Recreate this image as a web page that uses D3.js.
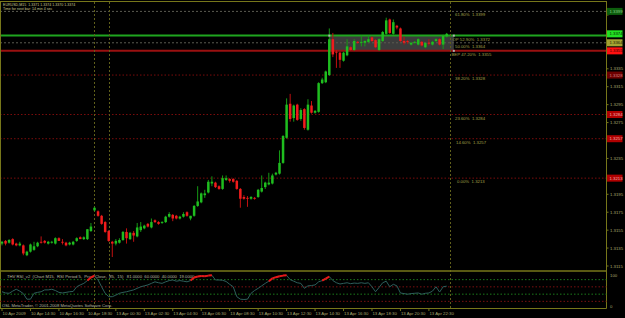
<!DOCTYPE html>
<html><head><meta charset="utf-8">
<script src="https://cdn.jsdelivr.net/npm/d3@7"></script>
<style>html,body{margin:0;padding:0;background:#000;overflow:hidden}</style>
</head><body><svg id="c" width="625" height="318"></svg>
<script>
// ---- data (EURUSD M15) ----
const opens = [1.3140,1.3143,1.3141,1.3145,1.3140,1.3138,1.3138,1.3127,1.3131,1.3133,
1.3137,1.3142,1.3143,1.3140,1.3141,1.3140,1.3146,1.3142,1.3141,1.3139,
1.3139,1.3143,1.3147,1.3145,1.3145,1.3154,1.3177,1.3176,1.3171,1.3164,
1.3154,1.3142,1.3140,1.3141,1.3144,1.3153,1.3145,1.3152,1.3148,1.3155,
1.3157,1.3162,1.3158,1.3166,1.3164,1.3163,1.3164,1.3170,1.3172,1.3171,
1.3168,1.3170,1.3175,1.3168,1.3171,1.3182,1.3186,1.3194,1.3197,1.3207,
1.3208,1.3204,1.3201,1.3211,1.3212,1.3212,1.3210,1.3201,1.3192,1.3191,
1.3190,1.3191,1.3192,1.3198,1.3203,1.3206,1.3207,1.3217,1.3218,1.3230,
1.3258,1.3296,1.3280,1.3295,1.3279,1.3290,1.3267,1.3294,1.3286,1.3287,
1.3319,1.3320,1.3328,1.3368,1.3354,1.3353,1.3344,1.3350,1.3359,1.3356,
1.3365,1.3364,1.3364,1.3365,1.3370,1.3367,1.3356,1.3366,1.3374,1.3390,
1.3374,1.3383,1.3380,1.3366,1.3366,1.3362,1.3364,1.3362,1.3365,1.3359,
1.3364,1.3362,1.3366,1.3368,1.3362,1.3371];
const highs = [1.3143,1.3144,1.3145,1.3146,1.3141,1.3142,1.3139,1.3132,1.3140,1.3142,
1.3142,1.3148,1.3144,1.3143,1.3143,1.3147,1.3147,1.3145,1.3142,1.3142,
1.3143,1.3147,1.3148,1.3148,1.3156,1.3163,1.3181,1.3177,1.3172,1.3165,
1.3155,1.3143,1.3145,1.3146,1.3154,1.3157,1.3153,1.3154,1.3163,1.3164,
1.3161,1.3163,1.3168,1.3167,1.3165,1.3165,1.3171,1.3175,1.3173,1.3172,
1.3171,1.3175,1.3176,1.3171,1.3183,1.3204,1.3197,1.3200,1.3211,1.3215,
1.3209,1.3205,1.3216,1.3216,1.3213,1.3213,1.3211,1.3202,1.3194,1.3193,
1.3193,1.3192,1.3201,1.3216,1.3209,1.3219,1.3218,1.3220,1.3244,1.3261,
1.3302,1.3307,1.3295,1.3296,1.3291,1.3291,1.3301,1.3299,1.3289,1.3320,
1.3325,1.3333,1.3380,1.3375,1.3356,1.3354,1.3354,1.3368,1.3360,1.3368,
1.3366,1.3372,1.3367,1.3372,1.3371,1.3368,1.3369,1.3377,1.3392,1.3391,
1.3390,1.3384,1.3381,1.3371,1.3367,1.3365,1.3366,1.3369,1.3366,1.3364,
1.3368,1.3366,1.3369,1.3369,1.3373,1.3375];
const lows = [1.3138,1.3138,1.3140,1.3138,1.3137,1.3137,1.3127,1.3126,1.3130,1.3132,
1.3136,1.3140,1.3140,1.3139,1.3140,1.3139,1.3143,1.3139,1.3137,1.3138,
1.3138,1.3142,1.3145,1.3144,1.3144,1.3153,1.3176,1.3170,1.3161,1.3152,
1.3142,1.3125,1.3138,1.3140,1.3143,1.3140,1.3144,1.3142,1.3147,1.3153,
1.3156,1.3158,1.3157,1.3163,1.3161,1.3162,1.3163,1.3169,1.3165,1.3167,
1.3167,1.3169,1.3170,1.3166,1.3170,1.3181,1.3185,1.3191,1.3196,1.3204,
1.3202,1.3200,1.3200,1.3210,1.3208,1.3208,1.3200,1.3180,1.3189,1.3181,
1.3189,1.3189,1.3191,1.3197,1.3201,1.3205,1.3206,1.3216,1.3217,1.3229,
1.3257,1.3276,1.3276,1.3277,1.3277,1.3267,1.3266,1.3285,1.3285,1.3286,
1.3318,1.3319,1.3327,1.3348,1.3336,1.3336,1.3343,1.3349,1.3355,1.3355,
1.3363,1.3360,1.3360,1.3364,1.3365,1.3358,1.3355,1.3365,1.3373,1.3374,
1.3373,1.3379,1.3365,1.3362,1.3363,1.3361,1.3363,1.3361,1.3360,1.3358,
1.3361,1.3361,1.3365,1.3361,1.3357,1.3370];
const closes = [1.3142,1.3140,1.3144,1.3139,1.3138,1.3140,1.3129,1.3131,1.3139,1.3137,
1.3141,1.3141,1.3141,1.3142,1.3142,1.3146,1.3143,1.3141,1.3138,1.3141,
1.3142,1.3146,1.3145,1.3147,1.3156,1.3159,1.3180,1.3171,1.3162,1.3153,
1.3143,1.3140,1.3143,1.3144,1.3153,1.3146,1.3152,1.3149,1.3158,1.3159,
1.3160,1.3159,1.3164,1.3164,1.3162,1.3164,1.3170,1.3173,1.3168,1.3168,
1.3170,1.3173,1.3171,1.3171,1.3182,1.3187,1.3196,1.3196,1.3209,1.3209,
1.3203,1.3201,1.3213,1.3213,1.3210,1.3209,1.3201,1.3190,1.3190,1.3190,
1.3192,1.3190,1.3200,1.3202,1.3208,1.3208,1.3216,1.3219,1.3230,1.3260,
1.3295,1.3279,1.3294,1.3278,1.3289,1.3269,1.3295,1.3286,1.3288,1.3319,
1.3323,1.3332,1.3368,1.3351,1.3353,1.3345,1.3353,1.3360,1.3356,1.3366,
1.3364,1.3365,1.3366,1.3368,1.3366,1.3359,1.3368,1.3376,1.3389,1.3375,
1.3387,1.3381,1.3366,1.3364,1.3365,1.3364,1.3365,1.3368,1.3361,1.3364,
1.3363,1.3365,1.3368,1.3362,1.3372,1.3374];
const rsi = [46,42,41,48,54,48,40,22,22,41,
44,46,52,52,54,50,44,42,44,46,
47,62,68,73,82,92,98,84,62,41,
30,30,35,41,44,46,49,52,57,62,
65,68,73,78,75,73,78,82,84,80,
82,80,78,82,92,95,97,96,98,99,
84,84,83,79,70,62,30,22,21,22,
41,50,57,65,73,80,89,93,96,98,
99,85,80,75,73,57,65,66,68,78,
82,88,95,82,75,71,73,75,72,74,
73,75,73,75,62,46,60,75,80,62,
70,65,42,40,38,40,41,42,38,41,
42,48,62,45,62,64];
const timeLabels = ["10 Apr 2009","10 Apr 14:30","10 Apr 16:30","10 Apr 18:30","13 Apr 00:30","13 Apr 02:30","13 Apr 04:30","13 Apr 06:30","13 Apr 08:30","13 Apr 10:30","13 Apr 12:30","13 Apr 14:30","13 Apr 16:30","13 Apr 18:30","13 Apr 20:30","13 Apr 22:30"];
const timeLabelBars = [0,8,16,24,32,40,48,56,64,72,80,88,96,104,112,120];
const priceTicks = [1.3395,1.3375,1.3355,1.3335,1.3315,1.3295,1.3275,1.3255,1.3235,1.3215,1.3195,1.3175,1.3155,1.3135,1.3115];
const rsiTicks = [100,0];
const rsiLevels = [85,61.8,38.2,15];
const fibPct = ["61.80%","OP 52.90%","50.00%","BEP 47.20%","38.20%","23.60%","14.60%","0.00%"];
const fibPrice = [1.3399,1.3372,1.3364,1.3355,1.3328,1.3284,1.3257,1.3213];
const tagPrices = [1.3399,1.3374,1.3364,1.3355,1.3328,1.3284,1.3257,1.3213];
const vLineBars = [26,30,126];
const boxBars = [92,127];
const titleLines = ["EURUSD,M15  1.3371 1.3374 1.3370 1.3374","Time for next bar: 14 min 4 sec"];
const rsiTitle = "THV RSI_v2  (Chart M15,  RSI Period 5,  Price Close,  85,  15)   81.0000  60.0000  40.0000  19.0000";
const copyright = "OSL MetaTrader, \u00a9 2001-2008 MetaQuotes Software Corp.";

// ---- drawing ----
const svg = d3.select("#c");
const OL = "#77771a", TXT = "#a8a870", FONT = "Liberation Sans, Arial, sans-serif";
const RIGHT = 606.5;
svg.append("rect").attr("width",625).attr("height",318).attr("fill","#000");
const x = d3.scaleLinear().domain([0,125]).range([2,446.7]);
const y = d3.scaleLinear().domain([1.3115,1.3395]).range([266,15]);
const yr = d3.scaleLinear().domain([0,100]).range([306,275]);
const n = closes.length;
const bars = d3.range(n).map(i=>({i,o:opens[i],h:highs[i],l:lows[i],c:closes[i]}));

const fibStyles = [
 {c:"#5a5a50",w:1,d:"2,2"},{c:"#1fa51f",w:2,d:null},{c:"#5a5a50",w:1,d:"2,2"},{c:"#9a1010",w:2,d:null},
 {c:"#7a0c0c",w:1,d:"1.5,2"},{c:"#7a0c0c",w:1,d:"1.5,2"},{c:"#7a0c0c",w:1,d:"1.5,2"},{c:"#7a0c0c",w:1,d:"1.5,2"}];
svg.append("rect").attr("x",x(boxBars[0])).attr("width",x(boxBars[1])-x(boxBars[0]))
  .attr("y",y(fibPrice[1])).attr("height",y(fibPrice[3])-y(fibPrice[1])).attr("fill","#3c3c3c");
fibPrice.forEach((p,k)=>{
  const s=fibStyles[k];
  const ln=svg.append("line").attr("x1",0).attr("x2",RIGHT).attr("y1",y(p)).attr("y2",y(p))
   .attr("stroke",s.c).attr("stroke-width",s.w);
  if(s.d) ln.attr("stroke-dasharray",s.d);
});
vLineBars.forEach(b=>{
  svg.append("line").attr("x1",Math.round(x(b))+0.5).attr("x2",Math.round(x(b))+0.5).attr("y1",2).attr("y2",308)
   .attr("stroke","#5f5f1a").attr("stroke-dasharray","2,2");
});
const g = svg.append("g");
g.selectAll(".w").data(bars).join("line")
 .attr("x1",d=>x(d.i)).attr("x2",d=>x(d.i)).attr("y1",d=>y(d.h)).attr("y2",d=>y(d.l))
 .attr("stroke",d=>d.c>=d.o?"#159a15":"#c01010").attr("stroke-width",1);
g.selectAll(".b").data(bars).join("rect")
 .attr("x",d=>x(d.i)-1.25).attr("width",2.5)
 .attr("y",d=>y(Math.max(d.o,d.c))).attr("height",d=>Math.max(0.8,Math.abs(y(d.o)-y(d.c))))
 .attr("fill",d=>d.c>=d.o?"#1fbd1f":"#f01c1c");
[[boxBars[0],fibPrice[1]],[boxBars[1],fibPrice[1]],[boxBars[1],fibPrice[3]]].forEach(([b,p])=>{
  svg.append("rect").attr("x",x(b)-1).attr("y",y(p)-1).attr("width",2).attr("height",2).attr("fill","#b0b0b0");
});
const fibX = [455,452.5,455,451.5,455,455,456,457];
fibPct.forEach((t,k)=>{
  svg.append("text").attr("x",fibX[k]).attr("y",y(fibPrice[k])+5).text(t+"  "+fibPrice[k].toFixed(4))
   .attr("fill","#a0a048").attr("font-size",4.3).attr("font-family",FONT).attr("xml:space","preserve");
});

// frame
svg.append("line").attr("x1",0).attr("x2",RIGHT).attr("y1",1.5).attr("y2",1.5).attr("stroke",OL);
svg.append("line").attr("x1",0.5).attr("x2",0.5).attr("y1",1).attr("y2",308).attr("stroke",OL);
svg.append("line").attr("x1",RIGHT).attr("x2",RIGHT).attr("y1",1).attr("y2",308.5).attr("stroke",OL);
svg.append("line").attr("x1",0).attr("x2",RIGHT).attr("y1",271).attr("y2",271).attr("stroke",OL).attr("stroke-width",1.5);
svg.append("line").attr("x1",0).attr("x2",RIGHT).attr("y1",308.5).attr("y2",308.5).attr("stroke",OL);

// price axis (labels covered by a price tag are not shown, as in the terminal)
priceTicks.forEach(p=>{
  svg.append("line").attr("x1",RIGHT).attr("x2",RIGHT+2).attr("y1",y(p)).attr("y2",y(p)).attr("stroke",OL);
  const covered = tagPrices.some(t=>Math.abs(y(t)-y(p))<6);
  if(!covered) svg.append("text").attr("x",610).attr("y",y(p)+1.6).text(p.toFixed(4))
   .attr("fill",TXT).attr("font-size",4.3).attr("font-family",FONT);
});
const tagFill = ["#0d5e0d","#22e022","#a3a332","#ff1010","#6e0000","#b00000","#b00000","#b00000"];
const tagText = ["#88c888","#002000","#202000","#300000","#d08080","#f0b0b0","#f0b0b0","#f0b0b0"];
tagPrices.forEach((p,k)=>{
  svg.append("rect").attr("x",607).attr("y",y(p)-3.5).attr("width",15.5).attr("height",7).attr("fill",tagFill[k]);
  svg.append("text").attr("x",609.5).attr("y",y(p)+1.6).text(p.toFixed(4))
   .attr("fill",tagText[k]).attr("font-size",4.3).attr("font-family",FONT);
});

// RSI panel
svg.append("text").attr("x",7).attr("y",277.5).text(rsiTitle).attr("fill","#b8b8a0").attr("font-size",4.2)
 .attr("font-family",FONT).attr("xml:space","preserve");
svg.append("text").attr("x",2).attr("y",307).text(copyright).attr("fill","#b8b8a0").attr("font-size",4.2).attr("font-family",FONT);
rsiLevels.forEach((v,k)=>{
  svg.append("line").attr("x1",0).attr("x2",RIGHT).attr("y1",yr(v)).attr("y2",yr(v))
   .attr("stroke",k%2===0?"#1b7a1b":"#7a1010").attr("stroke-dasharray","1.5,2");
});
const line = d3.line().x((d,i)=>x(i)).y(d=>yr(d));
svg.append("path").attr("d",line(rsi)).attr("fill","none").attr("stroke","#2d5f5b").attr("stroke-width",1);
const segs = [];
for(let i=1;i<n;i++){ if(rsi[i]>85) segs.push([[i-1,rsi[i-1]],[i,rsi[i]]]); }
const sl = d3.line().x(d=>x(d[0])).y(d=>yr(d[1]));
segs.forEach(s=>svg.append("path").attr("d",sl(s)).attr("fill","none").attr("stroke","#e81818").attr("stroke-width",2));
rsiTicks.forEach(v=>{
  svg.append("text").attr("x",610).attr("y",yr(v)+1.6).text(v).attr("fill",TXT).attr("font-size",4.3).attr("font-family",FONT);
});

// time axis
timeLabelBars.forEach((b,k)=>{
  svg.append("line").attr("x1",x(b)).attr("x2",x(b)).attr("y1",308.5).attr("y2",311).attr("stroke",OL);
  svg.append("text").attr("x",x(b)+0.5).attr("y",314.5).text(timeLabels[k]).attr("fill",TXT)
   .attr("font-size",4.3).attr("font-family",FONT);
});

// title
titleLines.forEach((t,k)=>{
  svg.append("text").attr("x",3).attr("y",5.5+k*4.6).text(t).attr("fill","#c8c890").attr("font-size",3.6)
   .attr("font-family",FONT).attr("xml:space","preserve");
});
</script></body></html>
